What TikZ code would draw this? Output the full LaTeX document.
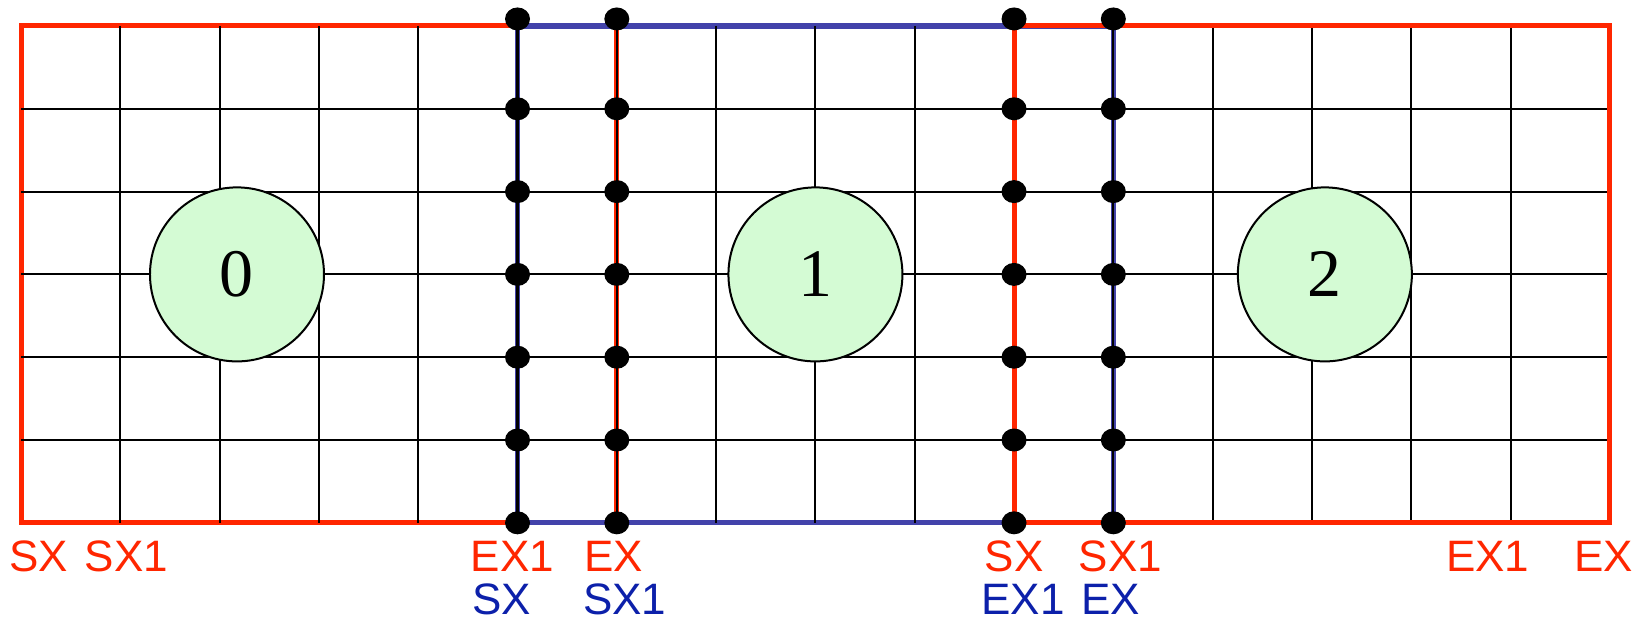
\documentclass[tikz,border=0pt]{standalone}
\usepackage{fontspec}
\setmainfont{Liberation Serif}
\newfontfamily\labfont{Liberation Sans}
\usetikzlibrary{shapes.geometric}
\definecolor{domred}{RGB}{255,38,0}
\definecolor{domblue}{RGB}{66,66,170}
\definecolor{txtblue}{RGB}{12,32,170}
\definecolor{cellgreen}{RGB}{212,251,212}
\tikzset{
  gridline/.style={black, line width=1.05pt},
  redbox/.style={domred, line width=2.5pt},
  bluebox/.style={domblue, line width=2.6pt},
  junction/.style={ellipse, fill=black, minimum width=12.5pt, minimum height=11.5pt, inner sep=0pt},
  cell/.style={circle, draw=black, line width=1pt, fill=cellgreen, minimum size=87pt, inner sep=0pt, font=\fontsize{34}{34}\selectfont},
  redlab/.style={text=domred, inner sep=0pt, font=\labfont\fontsize{22}{22}\selectfont},
  bluelab/.style={text=txtblue, inner sep=0pt, font=\labfont\fontsize{22}{22}\selectfont}
}
\begin{document}
\begin{tikzpicture}[x=49.65pt, y=-41.4pt]
\useasboundingbox (-0.2115,-0.314) rectangle (16.364,7.222);
% domain borders and grid
\draw[redbox] (0,0) rectangle (6,6);
\draw[bluebox] (5,0) rectangle (11,6);
\foreach \c in {1,...,15} \draw[gridline] (\c,0) -- (\c,6);
\foreach \r in {1,...,5} \draw[gridline] (0,\r) -- (16,\r);
\draw[redbox] (10,0) rectangle (16,6);
% subdomain centres
\node[cell] (c0) at (2.175,3) {0};
\node[cell] (c1) at (8,3) {1};
\node[cell] (c2) at (13.13,3) {2};
% junction dots
\foreach \c in {5,6,10,11} {
  \node[junction] (d\c-0) at (\c,-0.085) {};
  \foreach \r in {1,...,6} \node[junction] (d\c-\r) at (\c,\r) {};
}
% labels
\node[redlab] (r1) at (0.18,6.40) {SX};
\node[redlab] (r2) at (1.06,6.40) {SX1};
\node[redlab] (r3) at (4.95,6.40) {EX1};
\node[redlab] (r4) at (5.97,6.40) {EX};
\node[redlab] (r5) at (10.0,6.40) {SX};
\node[redlab] (r6) at (11.07,6.40) {SX1};
\node[redlab] (r7) at (14.77,6.40) {EX1};
\node[redlab] (r8) at (15.94,6.40) {EX};
\node[bluelab] (b1) at (4.84,6.93) {SX};
\node[bluelab] (b2) at (6.08,6.93) {SX1};
\node[bluelab] (b3) at (10.09,6.93) {EX1};
\node[bluelab] (b4) at (10.97,6.93) {EX};
\end{tikzpicture}
\end{document}
